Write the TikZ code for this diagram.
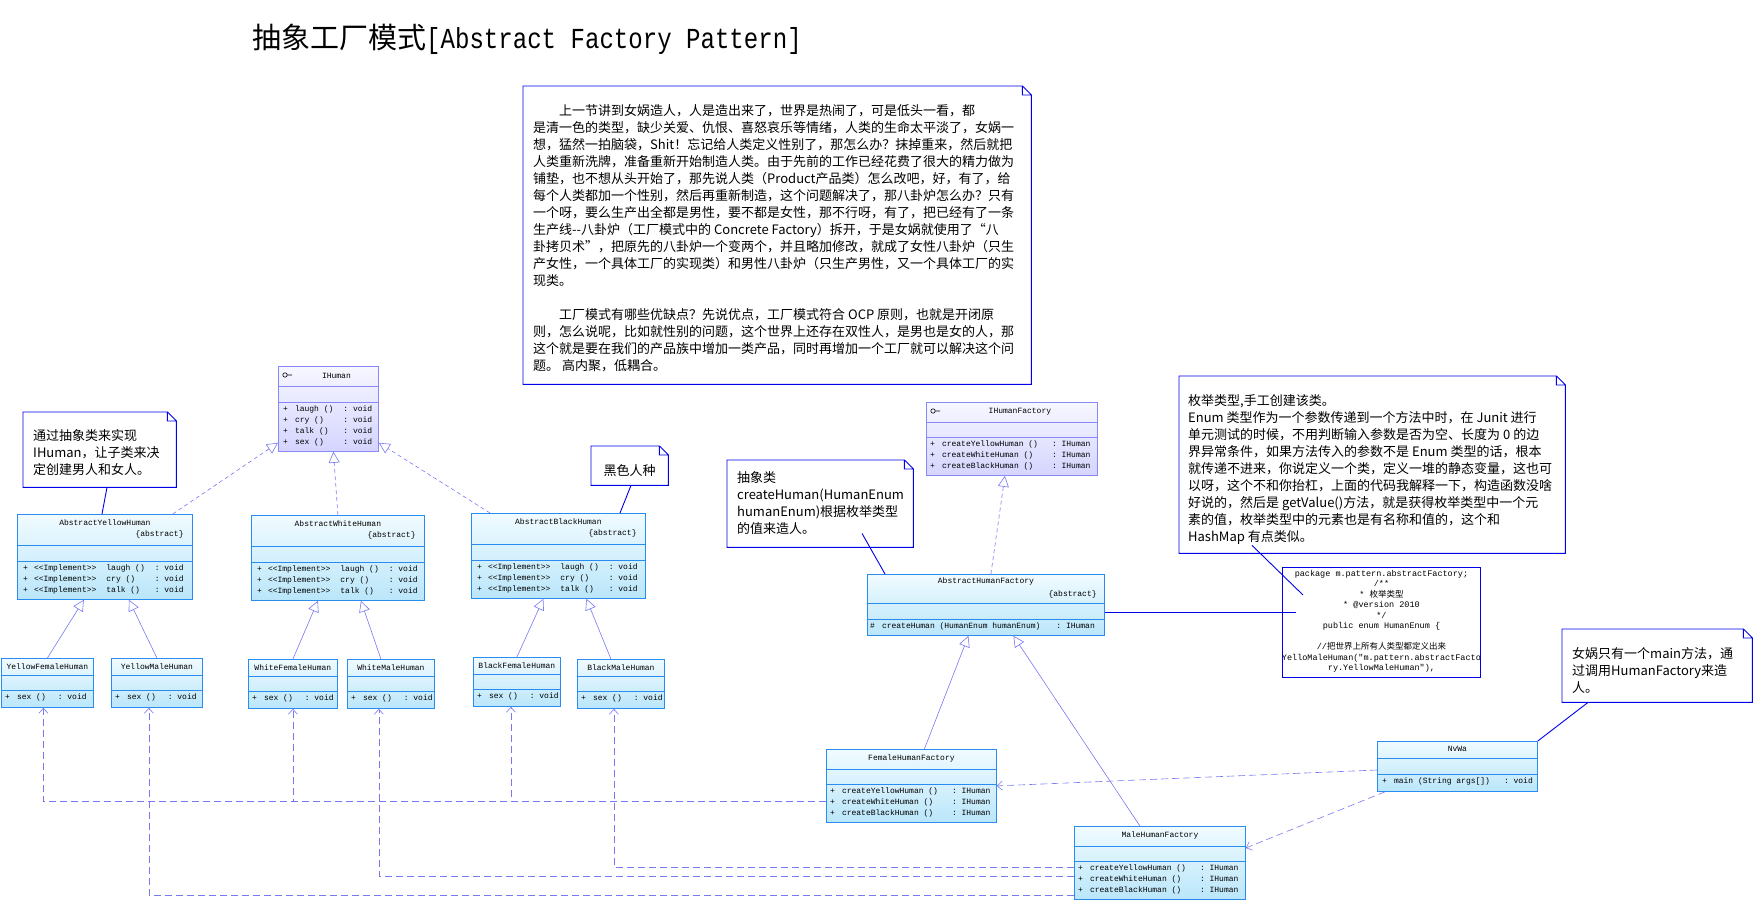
\documentclass[tikz,border=0pt]{standalone}
\usepackage{fontspec}
\setmainfont{Noto Sans CJK SC}
\setmonofont{Liberation Mono}
\newfontfamily\cjk{Noto Sans CJK SC}
\newfontfamily\titlemono[FakeStretch=0.83]{Liberation Mono}
\usetikzlibrary{arrows.meta,positioning,calc}

\definecolor{notecol}{RGB}{0,0,235}
\definecolor{ifline}{RGB}{136,136,250}
\definecolor{iftop}{RGB}{247,247,255}
\definecolor{ifbot}{RGB}{212,212,255}
\definecolor{clsline}{RGB}{40,140,240}
\definecolor{clstop}{RGB}{240,251,255}
\definecolor{clsbot}{RGB}{186,230,250}
\definecolor{umlline}{RGB}{120,120,245}

\tikzset{
  iface/.style={draw=ifline, top color=iftop, bottom color=ifbot, inner sep=0pt, line width=0.8pt},
  iface div/.style={draw=ifline, line width=0.8pt},
  cls/.style={draw=clsline, top color=clstop, bottom color=clsbot, inner sep=0pt, line width=0.8pt},
  cls div/.style={draw=clsline, line width=0.8pt},
  cname/.style={font=\ttfamily\fontsize{8}{10}\selectfont, inner sep=0pt},
  ops/.style={font=\ttfamily\fontsize{8}{11}\selectfont, inner sep=0pt, anchor=north west},
  codetxt/.style={font=\ttfamily\fontsize{8.5}{10.5}\selectfont, align=center, inner sep=0pt, anchor=north},
  notebox/.style={fill=white, inner sep=0pt, anchor=north west},
  notetxt/.style={font=\fontsize{13}{17}\selectfont, align=left, inner sep=0pt, anchor=north west},
  noteline/.style={draw=notecol, line width=0.9pt},
  realarr/.style={draw=umlline, line width=0.6pt, dash pattern=on 4pt off 3pt, -{Triangle[open, length=11pt, width=11pt]}},
  genarr/.style={draw=umlline, line width=0.6pt, -{Triangle[open, length=11pt, width=11pt]}},
  deparr/.style={draw=umlline, line width=0.6pt, dash pattern=on 7pt off 4pt, -{Straight Barb[length=5pt, width=9pt]}},
}

% class box: style, name, x, y, width, name/attr/op heights
\newcommand\umlclass[8]{%
  \node[#1, anchor=north west, minimum width=#5pt, minimum height=(#6+#7+#8)*1pt] (#2) at (#3,#4) {};
  \draw[#1 div] ($(#2.north west)+(0,#6)$) -- +(#5,0)
                ($(#2.north west)+(0,#6+#7)$) -- +(#5,0);}
% note outline with folded corner
\newcommand\notefold[1]{%
  \draw[noteline] (#1.north west) -- ([xshift=-9pt]#1.north east) -- ([yshift=-9pt]#1.north east)
    -- (#1.south east) -- (#1.south west) -- cycle
    ([xshift=-9pt]#1.north east) |- ([yshift=-9pt]#1.north east);}
\newcommand\oplist[2][9pt]{\begin{tabular}{@{}l@{\hspace{7pt}}l@{\hspace{#1}}l@{}}#2\end{tabular}}
\newcommand\implist[1]{\begin{tabular}{@{}l@{\hspace{6pt}}l@{\hspace{10pt}}l@{\hspace{10pt}}l@{}}#1\end{tabular}}

\begin{document}
\begin{tikzpicture}[x=1pt, y=-1pt]
\path[use as bounding box, fill=white] (0,0) rectangle (1754,901);

\node[anchor=west, inner sep=0pt, font=\fontsize{29}{29}\selectfont] (title) at (252,39)
  {抽象工厂模式{\titlemono [Abstract Factory Pattern]}};

% notes
\node[notebox, minimum width=508pt, minimum height=298pt] (story) at (523,86) {};
\notefold{story}
\node[notetxt] at ($(story.north west)+(10,18)$) {\hspace*{26pt}上一节讲到女娲造人，人是造出来了，世界是热闹了，可是低头一看，都\\
是清一色的类型，缺少关爱、仇恨、喜怒哀乐等情绪，人类的生命太平淡了，女娲一\\
想，猛然一拍脑袋，Shit！忘记给人类定义性别了，那怎么办？抹掉重来，然后就把\\
人类重新洗牌，准备重新开始制造人类。由于先前的工作已经花费了很大的精力做为\\
铺垫，也不想从头开始了，那先说人类（Product产品类）怎么改吧，好，有了，给\\
每个人类都加一个性别，然后再重新制造，这个问题解决了，那八卦炉怎么办？只有\\
一个呀，要么生产出全都是男性，要不都是女性，那不行呀，有了，把已经有了一条\\
生产线-{}-八卦炉（工厂模式中的 Concrete Factory）拆开，于是女娲就使用了“八\\
卦拷贝术”，把原先的八卦炉一个变两个，并且略加修改，就成了女性八卦炉（只生\\
产女性，一个具体工厂的实现类）和男性八卦炉（只生产男性，又一个具体工厂的实\\
现类。\\[17pt]
\hspace*{26pt}工厂模式有哪些优缺点？先说优点，工厂模式符合 OCP 原则，也就是开闭原\\
则，怎么说呢，比如就性别的问题，这个世界上还存在双性人，是男也是女的人，那\\
这个就是要在我们的产品族中增加一类产品，同时再增加一个工厂就可以解决这个问\\
题。 高内聚，低耦合。};

\node[notebox, minimum width=153pt, minimum height=75pt] (ynote) at (23,412) {};
\notefold{ynote}
\node[notetxt] at ($(ynote.north west)+(10,17)$) {通过抽象类来实现\\IHuman，让子类来决\\定创建男人和女人。};

\node[notebox, minimum width=77pt, minimum height=39pt] (bnote) at (591,446) {};
\notefold{bnote}
\node[notetxt, anchor=center] at ($(bnote.center)+(0,5)$) {黑色人种};

\node[notebox, minimum width=186pt, minimum height=87pt] (hnote) at (727,460) {};
\notefold{hnote}
\node[notetxt] at ($(hnote.north west)+(10,11)$) {抽象类\\createHuman(HumanEnum\\humanEnum)根据枚举类型\\的值来造人。};

\node[notebox, minimum width=386pt, minimum height=177pt] (enumnote) at (1179,376) {};
\notefold{enumnote}
\node[notetxt] at ($(enumnote.north west)+(9,18)$) {枚举类型,手工创建该类。\\
Enum 类型作为一个参数传递到一个方法中时，在 Junit 进行\\
单元测试的时候，不用判断输入参数是否为空、长度为 0 的边\\
界异常条件，如果方法传入的参数不是 Enum 类型的话，根本\\
就传递不进来，你说定义一个类，定义一堆的静态变量，这也可\\
以呀，这个不和你抬杠，上面的代码我解释一下，构造函数没啥\\
好说的，然后是 getValue()方法，就是获得枚举类型中一个元\\
素的值，枚举类型中的元素也是有名称和值的，这个和\\
HashMap 有点类似。};

\node[notebox, draw=notecol, line width=0.9pt, minimum width=198pt, minimum height=110pt] (codebox) at (1282,567) {};
\node[codetxt] at ($(codebox.north)+(0,3)$) {package m.pattern.abstractFactory;\\
/**\\
* {\cjk 枚举类型}\\
* @version 2010\\
*/\\
public enum HumanEnum \{\\[10.5pt]
//{\cjk 把世界上所有人类型都定义出来}\\
YelloMaleHuman("m.pattern.abstractFacto\\
ry.YellowMaleHuman"),};

\node[notebox, minimum width=190pt, minimum height=73pt] (wnote) at (1562,629) {};
\notefold{wnote}
\node[notetxt] at ($(wnote.north west)+(10,18)$) {女娲只有一个main方法，通\\过调用HumanFactory来造\\人。};

% humans
\umlclass{iface}{ihuman}{278}{366}{100}{20}{16}{49}
\draw[line width=0.6pt] ($(ihuman.north west)+(7,9)$) circle (2.2pt) ++(2.2,0) -- ++(5,0);
\node[cname] at ($(ihuman.north)+(8,10)$) {IHuman};
\node[ops] at ($(ihuman.north west)+(5,37.5)$) {\oplist[10pt]{+ & laugh () & : void\\ + & cry () & : void\\ + & talk () & : void\\ + & sex () & : void}};

\umlclass{cls}{ayh}{17}{514}{175}{31}{16}{38}
\node[cname] at ($(ayh.north)+(0,9)$) {AbstractYellowHuman};
\node[cname, anchor=east] at ($(ayh.north east)+(-9,20)$) {\{abstract\}};
\node[ops] at ($(ayh.north west)+(6,48.5)$) {\implist{+ & <<Implement>> & laugh () & : void\\ + & <<Implement>> & cry () & : void\\ + & <<Implement>> & talk () & : void}};

\umlclass{cls}{awh}{251}{515}{173}{31}{16}{38}
\node[cname] at ($(awh.north)+(0,9)$) {AbstractWhiteHuman};
\node[cname, anchor=east] at ($(awh.north east)+(-9,20)$) {\{abstract\}};
\node[ops] at ($(awh.north west)+(6,48.5)$) {\implist{+ & <<Implement>> & laugh () & : void\\ + & <<Implement>> & cry () & : void\\ + & <<Implement>> & talk () & : void}};

\umlclass{cls}{abh}{471}{513}{174}{31}{16}{38}
\node[cname] at ($(abh.north)+(0,9)$) {AbstractBlackHuman};
\node[cname, anchor=east] at ($(abh.north east)+(-9,20)$) {\{abstract\}};
\node[ops] at ($(abh.north west)+(6,48.5)$) {\implist{+ & <<Implement>> & laugh () & : void\\ + & <<Implement>> & cry () & : void\\ + & <<Implement>> & talk () & : void}};

\umlclass{cls}{yfh}{1}{658}{92}{17}{15}{17}
\node[cname] at ($(yfh.north)+(0,8.5)$) {YellowFemaleHuman};
\node[ops] at ($(yfh.north west)+(4,33.5)$) {\oplist[12pt]{+ & sex () & : void}};
\umlclass{cls}{ymh}{111}{658}{91}{17}{15}{17}
\node[cname] at ($(ymh.north)+(0,8.5)$) {YellowMaleHuman};
\node[ops] at ($(ymh.north west)+(4,33.5)$) {\oplist[12pt]{+ & sex () & : void}};
\umlclass{cls}{wfh}{248}{659}{89}{17}{15}{17}
\node[cname] at ($(wfh.north)+(0,8.5)$) {WhiteFemaleHuman};
\node[ops] at ($(wfh.north west)+(4,33.5)$) {\oplist[12pt]{+ & sex () & : void}};
\umlclass{cls}{wmh}{347}{659}{87}{17}{15}{17}
\node[cname] at ($(wmh.north)+(0,8.5)$) {WhiteMaleHuman};
\node[ops] at ($(wmh.north west)+(4,33.5)$) {\oplist[12pt]{+ & sex () & : void}};
\umlclass{cls}{bfh}{473}{657}{87}{17}{15}{17}
\node[cname] at ($(bfh.north)+(0,8.5)$) {BlackFemaleHuman};
\node[ops] at ($(bfh.north west)+(4,33.5)$) {\oplist[12pt]{+ & sex () & : void}};
\umlclass{cls}{bmh}{577}{659}{87}{17}{15}{17}
\node[cname] at ($(bmh.north)+(0,8.5)$) {BlackMaleHuman};
\node[ops] at ($(bmh.north west)+(4,33.5)$) {\oplist[12pt]{+ & sex () & : void}};

% factories
\umlclass{iface}{ihfac}{926}{402}{171}{20}{15}{38}
\draw[line width=0.6pt] ($(ihfac.north west)+(7,9)$) circle (2.2pt) ++(2.2,0) -- ++(5,0);
\node[cname] at ($(ihfac.north)+(8,10)$) {IHumanFactory};
\node[ops] at ($(ihfac.north west)+(4,36.5)$) {\oplist[14pt]{+ & createYellowHuman () & : IHuman\\ + & createWhiteHuman () & : IHuman\\ + & createBlackHuman () & : IHuman}};

\umlclass{cls}{absfac}{867}{574}{237}{29}{16}{16}
\node[cname] at ($(absfac.north)+(0,7.5)$) {AbstractHumanFactory};
\node[cname, anchor=east] at ($(absfac.north east)+(-8,20)$) {\{abstract\}};
\node[ops] at ($(absfac.north west)+(3,46.5)$) {\oplist[16pt]{\# & createHuman (HumanEnum humanEnum) & : IHuman}};

\umlclass{cls}{ffac}{826}{749}{170}{20}{15}{38}
\node[cname] at ($(ffac.north)+(0,9.5)$) {FemaleHumanFactory};
\node[ops] at ($(ffac.north west)+(4,36.5)$) {\oplist[14pt]{+ & createYellowHuman () & : IHuman\\ + & createWhiteHuman () & : IHuman\\ + & createBlackHuman () & : IHuman}};

\umlclass{cls}{mfac}{1074}{826}{171}{20}{15}{38}
\node[cname] at ($(mfac.north)+(0,9.5)$) {MaleHumanFactory};
\node[ops] at ($(mfac.north west)+(4,36.5)$) {\oplist[14pt]{+ & createYellowHuman () & : IHuman\\ + & createWhiteHuman () & : IHuman\\ + & createBlackHuman () & : IHuman}};

\umlclass{cls}{nvwa}{1377}{741}{160}{17}{16}{17}
\node[cname] at ($(nvwa.north)+(0,8)$) {NvWa};
\node[ops] at ($(nvwa.north west)+(5,34.5)$) {\oplist[14pt]{+ & main (String args[]) & : void}};

% realisations
\draw[realarr] ($(ayh.north east)+(-20,0)$) -- ($(ihuman.south west)+(0,-9)$);
\draw[realarr] (awh.north) -- ($(ihuman.south)+(5,0)$);
\draw[realarr] ($(abh.north west)+(19,0)$) -- ($(ihuman.south east)+(0,-9)$);
\draw[realarr] ($(absfac.north)+(5,0)$) -- ($(ihfac.south)+(-7,0)$);

% generalisations
\draw[genarr] (yfh.north) -- ($(ayh.south)+(-21,0)$);
\draw[genarr] (ymh.north) -- ($(ayh.south)+(24,0)$);
\draw[genarr] (wfh.north) -- ($(awh.south)+(-20,0)$);
\draw[genarr] ($(wmh.north)+(-10,0)$) -- ($(awh.south)+(23,0)$);
\draw[genarr] (bfh.north) -- ($(abh.south)+(-15,0)$);
\draw[genarr] ($(bmh.north)+(-10,0)$) -- ($(abh.south)+(28,0)$);
\draw[genarr] ($(ffac.north)+(13,0)$) -- ($(absfac.south)+(-17.5,0)$);
\draw[genarr] ($(mfac.north)+(-20,0)$) -- ($(absfac.south)+(27.5,0)$);

% dependencies
\draw[deparr] ($(ffac.north west)+(0,52)$) -| ($(yfh.south)+(-4,0)$);
\draw[deparr] ($(ffac.north west)+(0,52)$) -| (wfh.south);
\draw[deparr] ($(ffac.north west)+(0,52)$) -| ($(bfh.south)+(-6,0)$);
\draw[deparr] ($(mfac.north west)+(0,41)$) -| ($(bmh.south)+(-7,0)$);
\draw[deparr] ($(mfac.north west)+(0,50)$) -| ($(wmh.south)+(-12,0)$);
\draw[deparr] ($(mfac.north west)+(0,69)$) -| ($(ymh.south)+(-8,0)$);
\draw[deparr] ($(nvwa.north west)+(0,29)$) -- (ffac.east);
\draw[deparr] ($(nvwa.south west)+(8,0)$) -- ($(mfac.north east)+(0,22)$);

% note links
\draw[noteline] ($(ynote.south west)+(84,0)$) -- ($(ayh.north west)+(85,0)$);
\draw[noteline] ($(bnote.south west)+(40,0)$) -- ($(abh.north west)+(149,0)$);
\draw[noteline] ($(hnote.south west)+(135,-14)$) -- ($(absfac.north west)+(18,0)$);
\draw[noteline] ($(enumnote.south west)+(73,-8)$) -- ($(codebox.north west)+(21,28)$);
\draw[noteline] ($(absfac.north east)+(0,38)$) -- ($(codebox.north west)+(14,45)$);
\draw[noteline] ($(wnote.south west)+(26,0)$) -- (nvwa.north east);

\end{tikzpicture}
\end{document}
